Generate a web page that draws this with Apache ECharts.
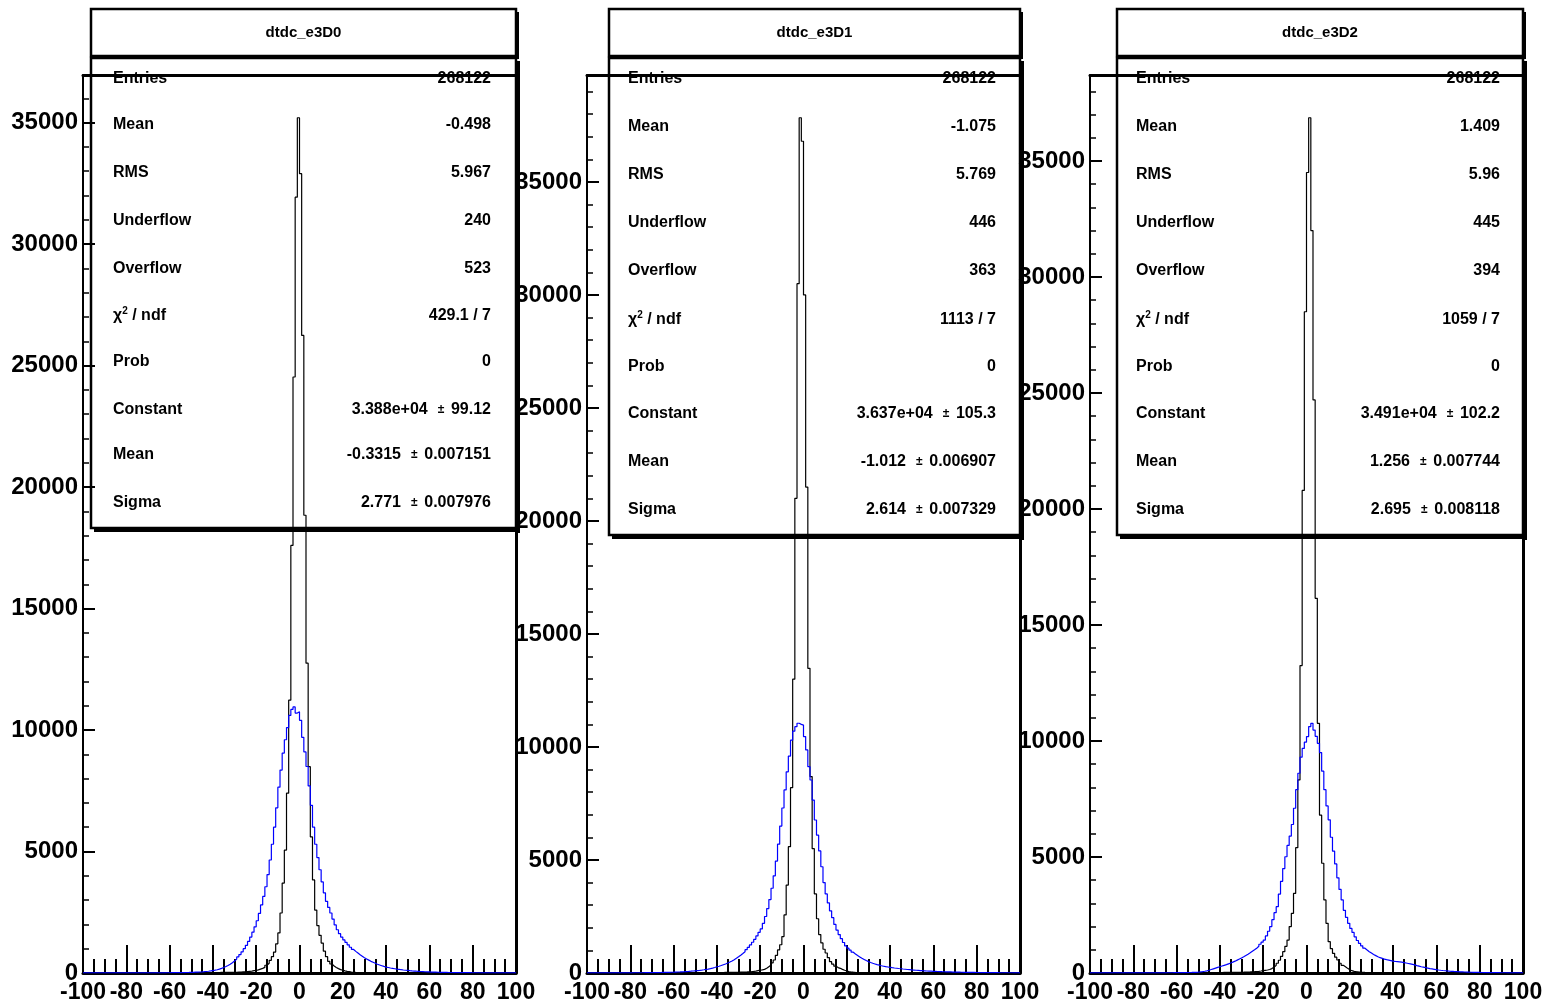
<!DOCTYPE html>
<html>
<head>
<meta charset="utf-8">
<script src="https://cdn.jsdelivr.net/npm/echarts@6/dist/echarts.min.js"></script>
<style>
html, body { margin: 0; padding: 0; background: #fff; }
#chart { width: 1554px; height: 1006px; }
</style>
</head>
<body>
<div id="chart"></div>
<script>
// histograms: 200 bins of width 1 from -100 to 100
const binLow = -100
const binWidth = 1

const e3D0Black = [
  4, 4, 4, 5, 5, 5, 5, 5, 5, 5, 6, 6, 6, 6, 6, 6, 6, 7, 7, 7,
  7, 7, 7, 7, 8, 8, 8, 8, 8, 9, 9, 9, 9, 10, 10, 10, 10, 11, 11, 11,
  12, 12, 13, 13, 13, 14, 14, 14, 15, 15, 15, 16, 16, 17, 17, 18, 18, 19, 19, 20,
  20, 20, 21, 22, 22, 23, 24, 25, 26, 27, 30, 35, 40, 45, 50, 60, 70, 80, 95, 110,
  130, 160, 190, 230, 320, 400, 520, 670, 860, 1200, 1650, 2470, 3700, 5060, 7400, 11230, 17600, 24530, 31930, 35200,
  32900, 26240, 18840, 12750, 8490, 5600, 3830, 2590, 1950, 1550, 1230, 900, 670, 480, 370, 290, 230, 180, 140, 120,
  90, 70, 55, 40, 30, 22, 18, 15, 13, 12, 11, 10, 10, 9, 9, 8, 8, 8, 7, 7,
  7, 7, 6, 6, 6, 6, 6, 6, 6, 6, 5, 5, 5, 5, 5, 5, 5, 5, 5, 5,
  5, 5, 5, 5, 5, 5, 5, 5, 5, 5, 5, 5, 5, 5, 5, 5, 5, 5, 5, 5,
  5, 5, 5, 5, 5, 5, 5, 5, 5, 5, 5, 5, 5, 5, 5, 5, 5, 5, 5, 5
]
const e3D0Blue = [
  2, 2, 2, 2, 2, 2, 3, 3, 3, 3, 3, 3, 3, 3, 4, 4, 4, 4, 4, 4,
  4, 5, 5, 5, 5, 5, 6, 6, 6, 6, 7, 7, 7, 8, 8, 8, 9, 9, 10, 11,
  12, 13, 14, 15, 16, 17, 18, 20, 22, 25, 28, 32, 36, 41, 47, 54, 62, 72, 85, 100,
  115, 135, 160, 190, 225, 265, 310, 360, 420, 490, 570, 660, 760, 870, 1000, 1140, 1300, 1480, 1680, 1900,
  2150, 2450, 2800, 3150, 3550, 4050, 4650, 5300, 6000, 6800, 7650, 8350, 9050, 9600, 10100, 10600, 10850, 10950, 10700, 10750,
  10400, 9700, 9100, 8500, 7700, 6900, 6000, 5300, 4750, 4250, 3750, 3300, 2950, 2700, 2470, 2220, 1980, 1780, 1620, 1480,
  1360, 1260, 1160, 1060, 970, 890, 820, 750, 690, 630, 580, 530, 480, 440, 400, 360, 330, 300, 270, 245,
  225, 205, 190, 175, 160, 148, 135, 124, 114, 105, 96, 88, 81, 74, 68, 62, 57, 52, 48, 44,
  40, 37, 34, 31, 29, 27, 25, 23, 21, 20, 19, 18, 17, 16, 15, 14, 13, 12, 12, 11,
  11, 10, 10, 9, 9, 9, 8, 8, 8, 7, 7, 7, 7, 6, 6, 6, 6, 6, 5, 5
]
const e3D1Black = [
  3, 3, 3, 3, 4, 4, 4, 4, 4, 4, 5, 5, 5, 5, 5, 5, 6, 6, 6, 6,
  6, 6, 7, 7, 7, 7, 8, 8, 8, 8, 9, 9, 9, 10, 10, 10, 11, 11, 11, 12,
  12, 12, 13, 13, 14, 14, 15, 15, 16, 16, 17, 17, 18, 18, 19, 19, 20, 20, 21, 21,
  22, 22, 23, 24, 25, 26, 27, 28, 30, 32, 35, 38, 42, 47, 53, 60, 70, 85, 105, 125,
  140, 160, 210, 280, 350, 450, 575, 780, 1020, 1250, 1610, 2570, 3890, 5590, 8200, 13000, 21000, 30500, 37840, 36800,
  30000, 21500, 13480, 8690, 5500, 3500, 2400, 1700, 1330, 1050, 885, 680, 500, 390, 300, 240, 207, 160, 120, 90,
  60, 45, 35, 28, 22, 18, 15, 13, 11, 10, 9, 9, 8, 8, 8, 7, 7, 7, 6, 6,
  6, 6, 6, 6, 5, 5, 5, 5, 5, 5, 5, 5, 5, 4, 4, 4, 4, 4, 4, 4,
  4, 4, 4, 4, 4, 4, 4, 4, 4, 4, 4, 3, 3, 3, 3, 3, 3, 3, 3, 3,
  3, 3, 3, 3, 3, 3, 3, 3, 3, 3, 3, 3, 3, 3, 3, 3, 3, 3, 3, 3
]
const e3D1Blue = [
  4, 4, 4, 5, 5, 5, 5, 6, 6, 6, 6, 7, 7, 7, 7, 8, 8, 8, 9, 9,
  9, 10, 10, 11, 12, 12, 13, 14, 15, 16, 17, 18, 20, 22, 24, 26, 28, 30, 33, 36,
  40, 44, 48, 53, 58, 64, 71, 79, 88, 98, 108, 118, 130, 143, 158, 175, 195, 218, 245, 275,
  300, 330, 365, 400, 440, 485, 535, 590, 650, 715, 785, 860, 940, 1030, 1130, 1240, 1360, 1490, 1640, 1800,
  1950, 2200, 2500, 2850, 3250, 3750, 4300, 4950, 5700, 6500, 7300, 8100, 8900, 9600, 10300, 10700, 10900, 11050, 11000, 10970,
  10460, 9870, 9130, 8540, 7650, 6770, 6100, 5400, 4700, 4000, 3500, 3100, 2750, 2450, 2150, 1900, 1700, 1520, 1350, 1200,
  1100, 1010, 920, 840, 770, 710, 650, 600, 550, 505, 465, 430, 400, 370, 345, 320, 300, 280, 265, 250,
  235, 222, 210, 198, 187, 176, 166, 156, 147, 138, 130, 122, 115, 108, 101, 95, 89, 84, 79, 74,
  70, 66, 62, 58, 55, 52, 49, 46, 43, 40, 38, 36, 34, 32, 30, 28, 26, 25, 24, 23,
  22, 21, 20, 19, 18, 17, 16, 15, 14, 13, 12, 12, 11, 11, 10, 10, 9, 9, 8, 8
]
const e3D2Black = [
  3, 3, 3, 3, 3, 4, 4, 4, 4, 4, 4, 4, 5, 5, 5, 5, 5, 5, 5, 6,
  6, 6, 6, 6, 7, 7, 7, 7, 7, 8, 8, 8, 8, 9, 9, 9, 10, 10, 10, 11,
  11, 11, 12, 12, 12, 13, 13, 14, 14, 15, 15, 16, 16, 17, 17, 18, 19, 19, 20, 21,
  22, 23, 24, 25, 26, 27, 28, 29, 31, 33, 35, 38, 41, 45, 50, 56, 63, 72, 85, 100,
  115, 130, 150, 190, 250, 330, 420, 550, 720, 920, 1150, 1420, 2000, 2570, 3430, 5400, 8320, 13250, 20800, 28500,
  34500, 36860, 32000, 24700, 16150, 10760, 6800, 4730, 3150, 2140, 1350, 1050, 850, 680, 560, 420, 330, 270, 200, 140,
  100, 70, 56, 45, 36, 30, 25, 21, 18, 16, 14, 13, 12, 11, 10, 10, 9, 9, 9, 8,
  8, 8, 8, 7, 7, 7, 7, 7, 6, 6, 6, 6, 6, 6, 6, 5, 5, 5, 5, 5,
  5, 5, 5, 5, 5, 5, 5, 5, 4, 4, 4, 4, 4, 4, 4, 4, 4, 4, 4, 4,
  4, 4, 4, 4, 4, 4, 4, 4, 4, 4, 4, 4, 4, 4, 4, 4, 4, 4, 4, 4
]
const e3D2Blue = [
  2, 2, 2, 2, 2, 2, 2, 3, 3, 3, 3, 3, 3, 3, 3, 4, 4, 4, 4, 4,
  4, 5, 5, 5, 5, 6, 6, 6, 7, 7, 7, 8, 8, 9, 9, 10, 10, 11, 12, 13,
  14, 15, 16, 17, 19, 21, 23, 26, 30, 36, 45, 58, 75, 95, 120, 150, 180, 210, 240, 270,
  300, 330, 360, 395, 430, 470, 510, 555, 600, 650, 700, 755, 810, 870, 935, 1000, 1070, 1150, 1240, 1330,
  1420, 1600, 1800, 2000, 2300, 2600, 2860, 3400, 3950, 4500, 5010, 5500, 5900, 6400, 7100, 7900, 8610, 9300, 9680, 9950,
  10190, 10620, 10760, 10470, 10200, 9900, 9500, 8700, 7900, 7200, 6600, 5850, 5250, 4700, 4100, 3600, 3150, 2700, 2400, 2140,
  1920, 1750, 1560, 1400, 1280, 1170, 1070, 990, 920, 860, 800, 750, 700, 660, 630, 600, 575, 555, 535, 515,
  500, 490, 480, 470, 450, 430, 410, 390, 370, 350, 320, 295, 270, 250, 230, 210, 190, 175, 160, 145,
  130, 118, 107, 97, 88, 80, 73, 66, 60, 55, 50, 46, 42, 38, 35, 32, 29, 27, 25, 23,
  21, 19, 18, 17, 16, 15, 14, 13, 12, 11, 10, 10, 9, 9, 8, 8, 7, 7, 7, 6
]

const titles = ['dtdc_e3D0', 'dtdc_e3D1', 'dtdc_e3D2']
const statNames = ['Entries', 'Mean', 'RMS', 'Underflow', 'Overflow', 'chi2', 'Prob', 'Constant', 'Mean', 'Sigma']
const e3D0Values = ['268122', '-0.498', '5.967', '240', '523', '429.1 / 7', '0', '3.388e+04', '-0.3315', '2.771']
const e3D0Errors = ['', '', '', '', '', '', '', '99.12', '0.007151', '0.007976']
const e3D1Values = ['268122', '-1.075', '5.769', '446', '363', '1113 / 7', '0', '3.637e+04', '-1.012', '2.614']
const e3D1Errors = ['', '', '', '', '', '', '', '105.3', '0.006907', '0.007329']
const e3D2Values = ['268122', '1.409', '5.96', '445', '394', '1059 / 7', '0', '3.491e+04', '1.256', '2.695']
const e3D2Errors = ['', '', '', '', '', '', '', '102.2', '0.007744', '0.008118']

const xTickStep = 20
const yLabelStep = 5000
const yMinorStep = 1000

const font = '"Liberation Sans", Arial, Helvetica, sans-serif'
const plotTop = 75
const plotW = 433
const plotH = 898

const panels = [
  { left: 83, boxL: 91, boxR: 516, statBot: 528, labelX: 113, valueX: 491,
    rows: [79, 125, 173, 221, 269, 316, 362, 410, 455, 503],
    black: e3D0Black, blue: e3D0Blue, values: e3D0Values, errors: e3D0Errors },
  { left: 587, boxL: 609, boxR: 1020, statBot: 535, labelX: 628, valueX: 996,
    rows: [79, 127, 175, 223, 271, 320, 367, 414, 462, 510],
    black: e3D1Black, blue: e3D1Blue, values: e3D1Values, errors: e3D1Errors },
  { left: 1090, boxL: 1117, boxR: 1523, statBot: 535, labelX: 1136, valueX: 1500,
    rows: [79, 127, 175, 223, 271, 320, 367, 414, 462, 510],
    black: e3D2Black, blue: e3D2Blue, values: e3D2Values, errors: e3D2Errors }
]

function steps(vals) {
  const pts = vals.map((v, i) => [binLow + i * binWidth, v])
  pts.push([binLow + vals.length * binWidth, vals[vals.length - 1]])
  return pts
}

const grid = []
const xAxis = []
const yAxis = []
const series = []
const graphic = []
const n = panels.length

panels.forEach((p, i) => {
  grid.push({ left: p.left, top: plotTop, width: plotW, height: plotH })
})
// overlay grids for long y ticks and the frame's top/right lines
panels.forEach((p, i) => {
  grid.push({ left: p.left, top: plotTop, width: plotW, height: plotH })
})

panels.forEach((p, i) => {
  const ymax = Math.max(...p.black) * 1.05
  xAxis.push({
    type: 'value', gridIndex: i, min: binLow, max: binLow + p.black.length * binWidth,
    interval: xTickStep, position: 'bottom',
    axisLine: { show: true, onZero: false, lineStyle: { color: '#000', width: 3 } },
    axisTick: { show: true, inside: true, length: 28, lineStyle: { color: '#000', width: 2 } },
    minorTick: { show: true, splitNumber: 4, length: 14, lineStyle: { color: '#000', width: 2 } },
    splitLine: { show: false },
    minorSplitLine: { show: false },
    axisLabel: {
      color: '#000', fontFamily: font, fontWeight: 'bold', fontSize: 23, margin: 8,
      showMinLabel: true, showMaxLabel: true
    }
  })
  yAxis.push({
    type: 'value', gridIndex: i, min: 0, max: ymax, interval: yMinorStep, position: 'left',
    axisLine: { show: true, onZero: false, lineStyle: { color: '#000', width: 2 } },
    axisTick: { show: true, inside: true, length: 6, lineStyle: { color: '#000', width: 1.5 } },
    splitLine: { show: false },
    axisLabel: {
      color: '#000', fontFamily: font, fontWeight: 'bold', fontSize: 24, margin: 5,
      showMaxLabel: false,
      formatter: v => (v % yLabelStep === 0 ? String(v) : '')
    }
  })
  series.push({
    type: 'line', xAxisIndex: i, yAxisIndex: i, data: steps(p.black), step: 'end',
    symbol: 'none', showSymbol: false, silent: true, animation: false, clip: true,
    lineStyle: { color: '#000', width: 1.2 }, itemStyle: { color: '#000' }, z: 3
  })
  series.push({
    type: 'line', xAxisIndex: i, yAxisIndex: i, data: steps(p.blue), step: 'end',
    symbol: 'none', showSymbol: false, silent: true, animation: false, clip: true,
    lineStyle: { color: '#0000ff', width: 1.2 }, itemStyle: { color: '#0000ff' }, z: 4
  })
})

panels.forEach((p, i) => {
  const ymax = Math.max(...p.black) * 1.05
  xAxis.push({
    type: 'value', gridIndex: n + i, min: 0, max: 1, position: 'top',
    axisLine: { show: true, onZero: false, lineStyle: { color: '#000', width: 3 } },
    axisTick: { show: false }, axisLabel: { show: false }, splitLine: { show: false }
  })
  yAxis.push({
    type: 'value', gridIndex: n + i, min: 0, max: ymax, interval: yLabelStep, position: 'left',
    axisLine: { show: false },
    axisTick: { show: true, inside: true, length: 12, lineStyle: { color: '#000', width: 2 } },
    axisLabel: { show: false }, splitLine: { show: false }
  })
})
panels.forEach((p, i) => {
  yAxis.push({
    type: 'value', gridIndex: n + i, min: 0, max: 1, position: 'right',
    axisLine: { show: true, onZero: false, lineStyle: { color: '#000', width: 3 } },
    axisTick: { show: false }, axisLabel: { show: false }, splitLine: { show: false }
  })
})

// stats boxes
const statFont = 'bold 16px ' + font
const richStyles = {
  c: { font: statFont, fill: '#000', lineHeight: 20 },
  s: { font: 'bold 10px ' + font, fill: '#000', verticalAlign: 'top', lineHeight: 20 },
  v: { font: statFont, fill: '#000', lineHeight: 20 },
  pm: { font: 'bold 12px ' + font, fill: '#000', lineHeight: 20 }
}

function textEl(x, y, text, align) {
  return {
    type: 'text', x: x, y: y, z: 100, silent: true,
    style: {
      text: text, rich: richStyles, font: statFont, fill: '#000',
      align: align, textAlign: align, verticalAlign: 'middle', textVerticalAlign: 'middle'
    }
  }
}

panels.forEach((p, i) => {
  const w = p.boxR - p.boxL
  const boxStyle = { fill: 'none', stroke: '#000', lineWidth: 2.5 }
  graphic.push({ type: 'rect', z: 100, silent: true, shape: { x: p.boxL + 3, y: 12, width: w, height: 47 }, style: { fill: '#000' } })
  graphic.push({ type: 'rect', z: 101, silent: true, shape: { x: p.boxL, y: 9, width: w, height: 47 }, style: { fill: '#fff', stroke: '#000', lineWidth: 2.5 } })
  graphic.push({
    type: 'text', x: (p.boxL + p.boxR) / 2, y: 33, z: 102, silent: true,
    style: { text: titles[i], font: 'bold 15px ' + font, fill: '#000', align: 'center', textAlign: 'center', verticalAlign: 'middle', textVerticalAlign: 'middle' }
  })
  // stats box shadow (right and bottom), box is see-through
  graphic.push({ type: 'rect', z: 100, silent: true, shape: { x: p.boxR + 1, y: 61, width: 3, height: p.statBot - 58 + 2 }, style: { fill: '#000' } })
  graphic.push({ type: 'rect', z: 100, silent: true, shape: { x: p.boxL + 3, y: p.statBot + 1, width: w, height: 3 }, style: { fill: '#000' } })
  graphic.push({ type: 'rect', z: 101, silent: true, shape: { x: p.boxL, y: 58, width: w, height: p.statBot - 58 }, style: boxStyle })

  statNames.forEach((name, k) => {
    const label = name === 'chi2' ? '{c|χ}{s|2}{c| / ndf}' : '{c|' + name + '}'
    graphic.push(textEl(p.labelX, p.rows[k], label, 'left'))
    const err = p.errors[k]
    const val = err ? '{v|' + p.values[k] + '}{pm|   ±  }{v|' + err + '}' : '{v|' + p.values[k] + '}'
    graphic.push(textEl(p.valueX, p.rows[k], val, 'right'))
  })
})

const chart = echarts.init(document.getElementById('chart'), null, { renderer: 'canvas' })
chart.setOption({
  backgroundColor: '#fff',
  animation: false,
  grid: grid,
  xAxis: xAxis,
  yAxis: yAxis,
  series: series,
  graphic: graphic
})
</script>
</body>
</html>
